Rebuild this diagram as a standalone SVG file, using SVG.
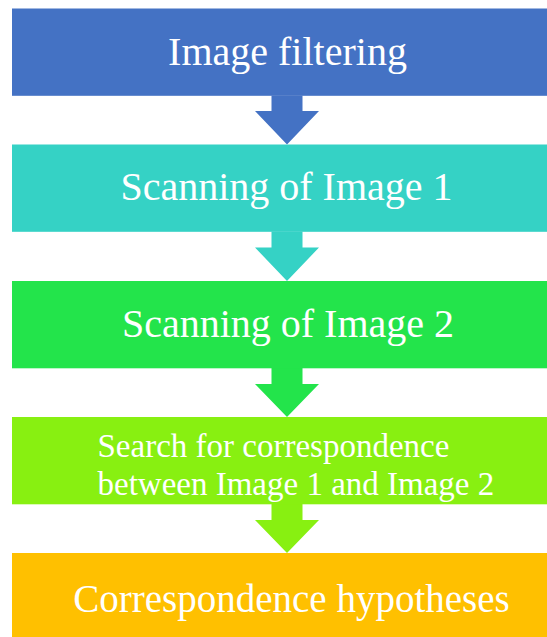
<svg xmlns="http://www.w3.org/2000/svg" width="547" height="637" viewBox="0 0 547 637">
<style>
  .lbl { font-family: "Liberation Serif", "Times New Roman", serif; fill: #ffffff; }
  .big { font-size: 40px; text-anchor: middle; }
  .mid { font-size: 33px; }
</style>
<rect x="0" y="0" width="547" height="637" fill="#ffffff"/>
<g id="connectors">
  <path d="M271.5,95.5 H302.5 V111 H319 L287,144.5 L255,111 H271.5 Z" fill="#4472C4"/>
  <path d="M271.5,231.5 H302.5 V247.5 H319 L287,281 L255,247.5 H271.5 Z" fill="#35D2C5"/>
  <path d="M271.5,368 H302.5 V384 H319 L287,417 L255,384 H271.5 Z" fill="#23E44B"/>
  <path d="M271.5,504 H302.5 V520 H319 L287,553 L255,520 H271.5 Z" fill="#88F011"/>
</g>
<g id="node1">
  <rect x="12" y="8.5" width="550" height="87.3" fill="#4472C4"/>
  <text class="lbl big" x="287.5" y="65">Image filtering</text>
</g>
<g id="node2">
  <rect x="12" y="144.5" width="550" height="87.3" fill="#35D2C5"/>
  <text class="lbl big" x="286.5" y="200">Scanning of Image 1</text>
</g>
<g id="node3">
  <rect x="12" y="281" width="550" height="87.3" fill="#23E44B"/>
  <text class="lbl big" x="288" y="336.7">Scanning of Image 2</text>
</g>
<g id="node4">
  <rect x="12" y="417" width="550" height="87.3" fill="#88F011"/>
  <text class="lbl mid" x="97.5" y="456.7">Search for correspondence</text>
  <text class="lbl mid" x="97.5" y="495">between Image 1 and Image 2</text>
</g>
<g id="node5">
  <rect x="12" y="553" width="550" height="90" fill="#FFC000"/>
  <text class="lbl big" x="291.5" y="611.7" style="font-size:39px">Correspondence hypotheses</text>
</g>
</svg>
